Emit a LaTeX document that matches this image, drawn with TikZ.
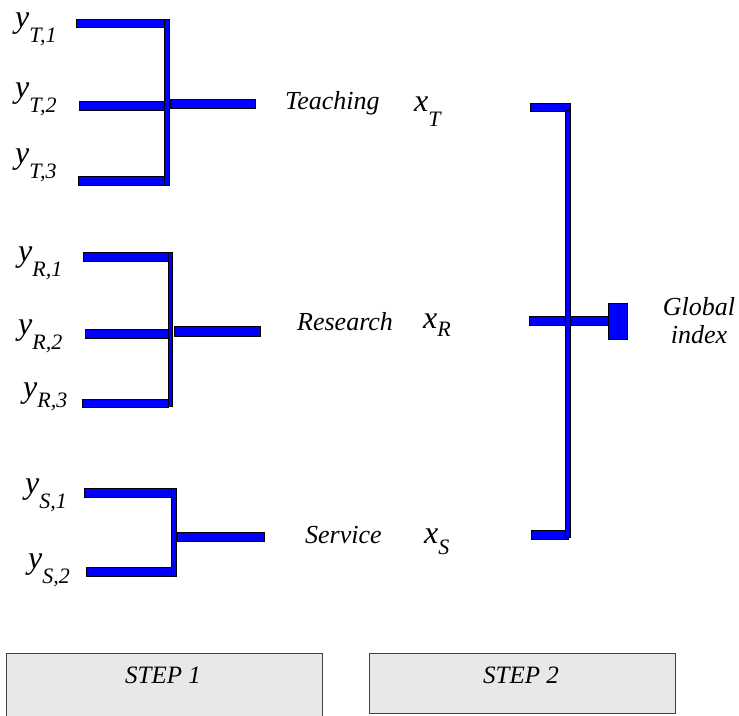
\documentclass[tikz,border=0pt]{standalone}
\usepackage{fontspec}
\setmainfont{Liberation Serif}
\newcommand{\lbl}[4]{\fontsize{32}{32}\selectfont\itshape #1\kern#4pt\raisebox{-#3pt}{\fontsize{22}{22}\selectfont #2}}
\begin{document}
\begin{tikzpicture}[x=1pt,y=-1pt,
  bar/.style={draw=black, fill=blue, line width=0.8pt},
  word/.style={anchor=base west, inner sep=0pt, font=\fontsize{26}{26}\selectfont\itshape},
  sym/.style={anchor=base west, inner sep=0pt},
  stepbox/.style={draw=black!75, fill=black!9, line width=0.6pt},
  steptext/.style={anchor=base, inner sep=0pt, font=\fontsize{25}{25}\selectfont\itshape}]
\useasboundingbox (0,0) rectangle (739,715);
% STEP 1 group: Teaching
\draw[bar] (76,19) rectangle (164,27.3);
\draw[bar] (79,101.7) rectangle (164,110.3);
\draw[bar] (78,176.7) rectangle (164,185);
\draw[bar] (164,19) rectangle (169.3,185);
\draw[bar] (170.7,99.3) rectangle (255,108.3);
% Research
\draw[bar] (83,252.7) rectangle (168,261.7);
\draw[bar] (85,329) rectangle (168,338.3);
\draw[bar] (82,399.3) rectangle (168,407.7);
\draw[bar] (168,252.7) rectangle (172.7,406);
\draw[bar] (174,326.7) rectangle (260,336);
% Service
\draw[bar] (84,488.3) rectangle (171.7,497.3);
\draw[bar] (86,567.3) rectangle (171.7,576);
\draw[bar] (171.7,488.3) rectangle (176.7,576);
\draw[bar] (177.3,532.7) rectangle (264,541.7);
% STEP 2
\draw[bar] (530.7,103.3) rectangle (570.7,111.7);
\draw[bar] (531.7,530.7) rectangle (568.3,539.3);
\draw[bar] (529.3,316) rectangle (608.3,325);
\draw[bar] (565,110.7) rectangle (570,537.3);
\draw[bar] (608.3,303.3) rectangle (627.7,339.3);
% y labels
\node[sym] (yt1) at (15,27) {\lbl{y}{T,1}{15}{0}};
\node[sym] (yt2) at (15,97) {\lbl{y}{T,2}{15}{0}};
\node[sym] (yt3) at (15,163) {\lbl{y}{T,3}{15}{0}};
\node[sym] (yr1) at (18,261) {\lbl{y}{R,1}{15}{0}};
\node[sym] (yr2) at (18,334) {\lbl{y}{R,2}{15}{0}};
\node[sym] (yr3) at (23,397) {\lbl{y}{R,3}{10}{0}};
\node[sym] (ys1) at (25,493) {\lbl{y}{S,1}{15}{0}};
\node[sym] (ys2) at (28,568) {\lbl{y}{S,2}{15}{0}};
% words
\node[word] (teach) at (285,109) {Teaching};
\node[word] (res) at (297,330) {Research};
\node[word] (serv) at (305,543) {Service};
% x labels
\node[sym] (xt) at (414,111) {\lbl{x}{T}{15}{0}};
\node[sym] (xr) at (423,328) {\lbl{x}{R}{8}{0}};
\node[sym] (xs) at (424,543) {\lbl{x}{S}{11}{0}};
% global index
\node[align=center, inner sep=0pt, font=\fontsize{26}{28}\selectfont\itshape, anchor=base] (glob) at (699,343) {Global\\index};
% step boxes
\draw[stepbox] (6,653) rectangle (322,718);
\draw[stepbox] (369,653) rectangle (675,713);
\node[steptext] (s1) at (163,683) {STEP 1};
\node[steptext] (s2) at (521,683) {STEP 2};
\end{tikzpicture}
\end{document}
